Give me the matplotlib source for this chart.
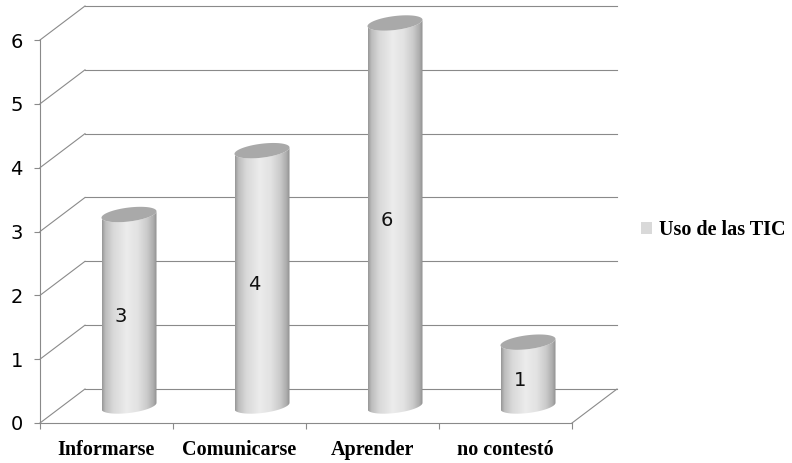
import numpy as np
import matplotlib
matplotlib.use("Agg")
import matplotlib.pyplot as plt
from matplotlib.patches import Polygon, Patch
from matplotlib.colors import LinearSegmentedColormap
from matplotlib.font_manager import FontProperties

categories = ["Informarse", "Comunicarse", "Aprender", "no contestó"]
values = [3, 4, 6, 1]
series_name = "Uso de las TIC"
y_ticks = [0, 1, 2, 3, 4, 5, 6]

W, H, DPI = 792, 463, 100
fig = plt.figure(figsize=(W / DPI, H / DPI), dpi=DPI)
ax = fig.add_axes([40 / W, 40 / H, 532 / W, 383 / H])
ax.set_xlim(-0.5, len(categories) - 0.5)
ax.set_ylim(y_ticks[0], y_ticks[-1])
xlim, ylim = ax.get_xlim(), ax.get_ylim()

line_c = "#8a8a8a"
DEPTH = np.array([45.0, 34.0])     # floor depth, pixels (right, up)
A, B, K = 27.5, 7.0, 3.2           # cylinder half width, ellipse half height, tilt (px)

to_px = ax.transData.transform
to_data = ax.transData.inverted().transform


def shifted(x, y, frac):
    return to_data(to_px((x, y)) + frac * DEPTH)


def ring(center, t):
    cx, cy = center
    return np.column_stack([cx + A * np.cos(t), cy + B * np.sin(t) + K * np.cos(t)])


# back wall gridlines and left wall diagonals
for v in y_ticks:
    b0 = shifted(xlim[0], v, 1.0)
    b1 = shifted(xlim[1], v, 1.0)
    ax.plot([xlim[0], b0[0]], [v, b0[1]], color=line_c, lw=0.8, zorder=1, clip_on=False)
    ax.plot([b0[0], b1[0]], [b0[1], b1[1]], color=line_c, lw=0.8, zorder=1, clip_on=False)
b1 = shifted(xlim[1], 0, 1.0)
ax.plot([xlim[1], b1[0]], [0, b1[1]], color=line_c, lw=0.8, zorder=1, clip_on=False)

# shading across the cylinder body
shade = LinearSegmentedColormap.from_list("cyl", [
    (0.0, "#969696"), (0.06, "#bcbcbc"), (0.2, "#d8d8d8"), (0.45, "#ececec"),
    (0.65, "#e2e2e2"), (0.82, "#cbcbcb"), (0.94, "#acacac"), (1.0, "#8e8e8e")])
grad = np.linspace(0, 1, 256)[np.newaxis, :]

for i, v in enumerate(values):
    bot = to_px(shifted(i, 0, 0.5))
    top = to_px(shifted(i, v, 0.5))
    lower = ring(bot, np.linspace(np.pi, 2 * np.pi, 80))
    upper = ring(top, np.linspace(2 * np.pi, np.pi, 80))
    body_px = np.vstack([lower, upper])
    body = Polygon(to_data(body_px), closed=True, facecolor="none",
                   edgecolor="none", zorder=2, clip_on=False)
    ax.add_patch(body)
    (xl, yb), (xr, yt) = to_data(body_px.min(axis=0)), to_data(body_px.max(axis=0))
    im = ax.imshow(grad, extent=[xl, xr, yb, yt], cmap=shade, aspect="auto",
                   interpolation="bilinear", zorder=2)
    im.set_clip_box(fig.bbox)
    im.set_clip_path(body)
    cap = ring(top, np.linspace(0, 2 * np.pi, 120))
    ax.add_patch(Polygon(to_data(cap), closed=True, facecolor="#a9a9a9",
                         edgecolor="none", zorder=3, clip_on=False))
    lx, ly = shifted(i, v / 2, 0.32)
    ax.text(lx, ly, str(v), ha="center", va="center", fontsize=14,
            color="#111111", zorder=4)

ax.set_xlim(xlim)
ax.set_ylim(ylim)

for side in ("top", "right"):
    ax.spines[side].set_visible(False)
for side in ("left", "bottom"):
    ax.spines[side].set_color(line_c)
    ax.spines[side].set_linewidth(0.8)

ax.set_yticks(y_ticks)
ax.tick_params(axis="y", length=4.3, width=0.8, color=line_c, labelsize=14, pad=8)
ax.set_xticks(range(len(categories)))
ax.set_xticklabels(categories, fontfamily="Liberation Serif", fontweight="bold",
                   fontsize=14.5)
ax.set_xticks(np.arange(xlim[0], xlim[1] + 0.01, 1.0), minor=True)
ax.tick_params(axis="x", which="major", length=0, pad=12)
ax.tick_params(axis="x", which="minor", length=4.3, width=0.8, color=line_c)

fig.legend(handles=[Patch(facecolor="#d9d9d9", edgecolor="none")],
           labels=[series_name], loc="center left",
           bbox_to_anchor=(641 / W, 1 - 230 / H), frameon=False,
           prop=FontProperties(family="Liberation Serif", weight="bold", size=14.5),
           handlelength=0.55, handleheight=0.55, handletextpad=0.35,
           borderpad=0, borderaxespad=0)

fig.savefig("out.png", dpi=DPI)
